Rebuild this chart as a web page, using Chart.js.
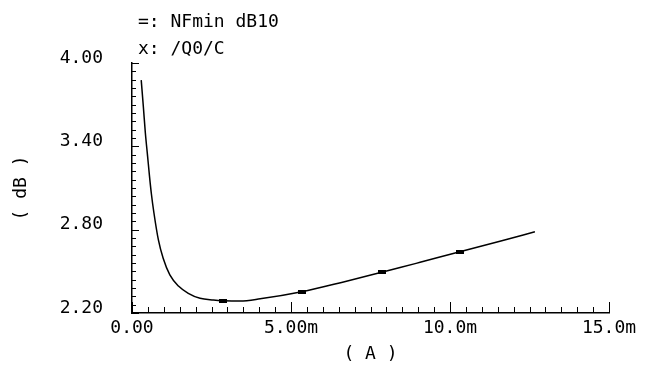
<!DOCTYPE html>
<html>
<head>
<meta charset="utf-8">
<script src="https://cdn.jsdelivr.net/npm/chart.js@4"></script>
<style>
  html, body { margin: 0; padding: 0; background: #fff; }
  #wrap { width: 650px; height: 366px; }
</style>
</head>
<body>
<div id="wrap"><canvas id="myChart" width="650" height="366"></canvas></div>
<script>
// NFmin dB10 vs /Q0/C
const currentMA = [0.29, 0.36, 0.42, 0.49, 0.55, 0.61, 0.69, 0.83, 0.98, 1.19, 1.46, 1.77, 2.14, 2.56, 2.87, 3.40, 4.03, 5.34, 6.59, 7.85, 8.43, 9.06, 10.31, 11.57, 12.67];
const nfminDb = [3.877, 3.676, 3.496, 3.33, 3.186, 3.057, 2.92, 2.726, 2.594, 2.474, 2.394, 2.342, 2.306, 2.294, 2.289, 2.286, 2.302, 2.353, 2.42, 2.493, 2.527, 2.565, 2.641, 2.716, 2.785];

// rectangular markers along the trace
const markerMA = [2.87, 5.34, 7.85, 10.31];
const markerDb = [2.289, 2.353, 2.493, 2.641];

const xTickValues = [0, 5, 10, 15];
const xTickLabels = ['0.00', '5.00m', '10.0m', '15.0m'];
const yTickValues = [2.2, 2.8, 3.4, 4.0];
const yTickLabels = ['2.20', '2.80', '3.40', '4.00'];
const legendLines = ['=: NFmin dB10', 'x: /Q0/C'];

const FONT = { family: '"DejaVu Sans Mono", "Liberation Mono", monospace', size: 18 };

// small filled bar used as point style
const markerImg = document.createElement('canvas');
markerImg.width = 8;
markerImg.height = 4;
markerImg.getContext('2d').fillRect(0, 0, 8, 4);

// inward tick marks like the original plotter
const tickPlugin = {
  id: 'inwardTicks',
  afterDraw(chart) {
    const { ctx, chartArea } = chart;
    const xs = chart.scales.x, ys = chart.scales.y;
    ctx.save();
    ctx.strokeStyle = '#000';
    ctx.lineWidth = 1;
    ctx.beginPath();
    for (let i = 0; i <= 30; i++) {
      const px = Math.round(xs.getPixelForValue(i * 0.5)) + 0.5;
      const len = i % 10 === 0 ? 11 : 6;
      ctx.moveTo(px, chartArea.bottom);
      ctx.lineTo(px, chartArea.bottom - len);
    }
    for (let i = 0; i <= 30; i++) {
      const py = Math.round(ys.getPixelForValue(2.2 + i * 0.06)) + 0.5;
      const len = i % 10 === 0 ? 7 : 4;
      ctx.moveTo(chartArea.left, py);
      ctx.lineTo(chartArea.left + len, py);
    }
    ctx.stroke();

    ctx.fillStyle = '#000';
    ctx.font = FONT.size + 'px ' + FONT.family;
    ctx.textBaseline = 'middle';
    ctx.textAlign = 'left';
    ctx.fillText(legendLines[0], 138, 22);
    ctx.fillText(legendLines[1], 138, 49);
    ctx.restore();
  }
};

const ctx = document.getElementById('myChart').getContext('2d');
new Chart(ctx, {
  type: 'scatter',
  data: {
    datasets: [
      {
        label: 'NFmin dB10',
        data: currentMA.map((x, i) => ({ x: x, y: nfminDb[i] })),
        showLine: true,
        borderColor: '#000',
        borderWidth: 1.5,
        pointRadius: 0,
        cubicInterpolationMode: 'monotone',
        fill: false
      },
      {
        label: 'markers',
        data: markerMA.map((x, i) => ({ x: x, y: markerDb[i] })),
        showLine: false,
        pointStyle: markerImg,
        pointRadius: 4
      }
    ]
  },
  options: {
    responsive: false,
    animation: false,
    events: [],
    layout: { padding: { top: 63, right: 41, left: 0, bottom: 0 } },
    plugins: {
      legend: { display: false },
      tooltip: { enabled: false }
    },
    scales: {
      x: {
        type: 'linear',
        min: 0,
        max: 15,
        afterBuildTicks: (s) => { s.ticks = xTickValues.map(v => ({ value: v })); },
        afterFit: (s) => { s.height = 53; },
        grid: { display: false, drawTicks: false },
        border: { display: true, color: '#000', width: 1.5 },
        ticks: {
          color: '#000',
          font: FONT,
          padding: 5,
          maxRotation: 0,
          autoSkip: false,
          callback: (v, i) => xTickLabels[i]
        },
        title: {
          display: true,
          text: '( A )',
          color: '#000',
          font: FONT,
          padding: { top: 0, bottom: 1 }
        }
      },
      y: {
        type: 'linear',
        min: 2.2,
        max: 4.0,
        afterBuildTicks: (s) => { s.ticks = yTickValues.map(v => ({ value: v })); },
        afterFit: (s) => { s.width = 132; },
        grid: { display: false, drawTicks: false },
        border: { display: true, color: '#000', width: 1.5 },
        ticks: {
          color: '#000',
          font: FONT,
          padding: 29,
          labelOffset: -5,
          autoSkip: false,
          callback: (v, i) => yTickLabels[i]
        },
        title: {
          display: true,
          text: '( dB )',
          color: '#000',
          font: FONT,
          padding: { top: 11, bottom: 0 }
        }
      }
    }
  },
  plugins: [tickPlugin]
});
</script>
</body>
</html>
